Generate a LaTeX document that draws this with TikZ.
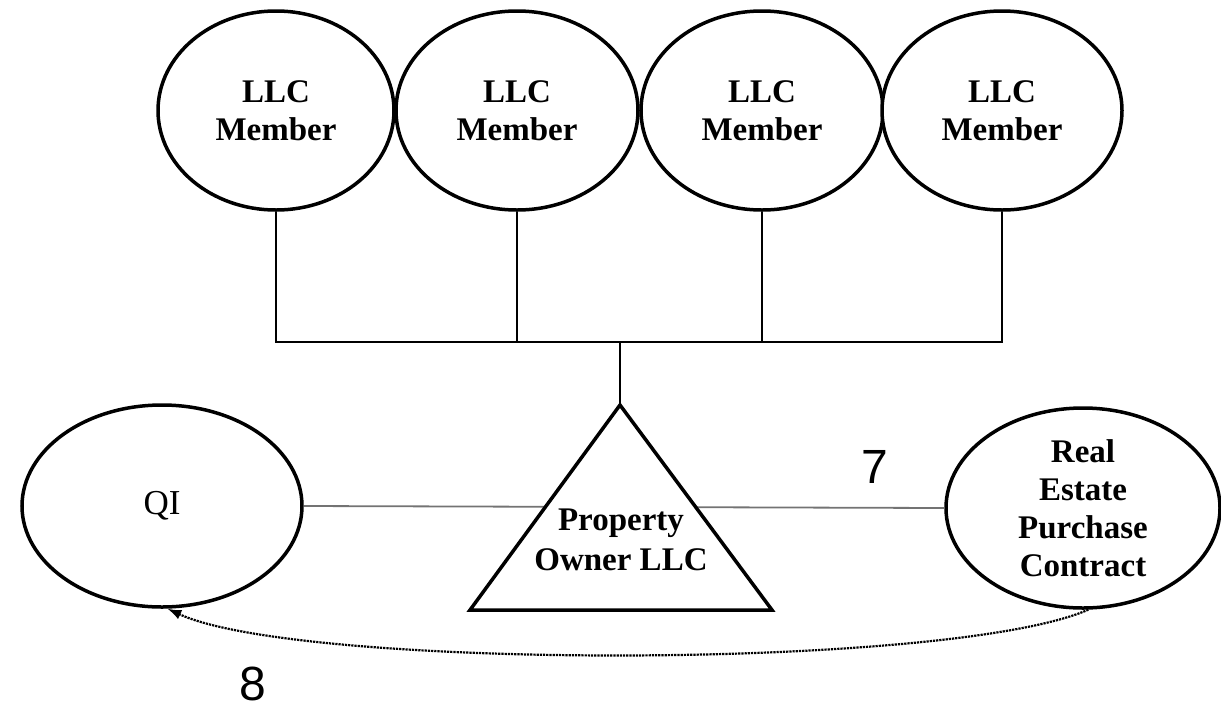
\documentclass[tikz,border=0pt]{standalone}
\usepackage{fontspec}
\setmainfont{Liberation Serif}
\newfontfamily\numfont{Liberation Sans}
\usetikzlibrary{shapes.geometric,arrows.meta}

\tikzset{
  oval/.style={ellipse, draw=black, line width=3.5pt, fill=white, inner sep=0pt,
    align=center, font=\bfseries\fontsize{33}{38}\selectfont},
  treeline/.style={draw=black, line width=2pt},
  link/.style={draw=black!55, line width=1.8pt},
  flow/.style={draw=black, line width=2.2pt, densely dotted,
    -{Latex[length=14pt,width=10pt]}},
  stepnum/.style={font=\numfont\fontsize{48}{48}\selectfont, inner sep=0pt},
  ownertext/.style={align=center, inner sep=0pt,
    font=\bfseries\fontsize{33}{40}\selectfont}
}

\begin{document}
\begin{tikzpicture}[x=1pt,y=-1pt]
\useasboundingbox (0,0) rectangle (1221,710);

% members of the company
\node[oval, minimum width=236pt, minimum height=199pt] (m1) at (276,110.5) {LLC\\Member};
\node[oval, minimum width=242pt, minimum height=199pt] (m2) at (517,110.5) {LLC\\Member};
\node[oval, minimum width=242pt, minimum height=199pt] (m3) at (762,110.5) {LLC\\Member};
\node[oval, minimum width=240pt, minimum height=199pt] (m4) at (1002,110.5) {LLC\\Member};

% ownership tree down to the company
\coordinate (hub) at (620,342);
\coordinate (apex) at (620,405);
\coordinate (baseL) at (470,610);
\coordinate (baseR) at (772,610);
\draw[treeline] (m1.south) -- (m1.south |- hub) -- (m4.south |- hub) -- (m4.south);
\draw[treeline] (m2.south) -- (m2.south |- hub);
\draw[treeline] (m3.south) -- (m3.south |- hub);
\draw[treeline] (hub) -- (apex);

% intermediary and contract
\node[oval, minimum width=280pt, minimum height=202pt,
  font=\fontsize{35}{38}\selectfont] (qi) at (162,506) {QI};
\node[oval, minimum width=274pt, minimum height=200pt] (re) at (1083,508)
  {Real\\Estate\\Purchase\\Contract};

\draw[link] (qi.east) -- (re.west);

% the company itself
\draw[line width=3.5pt, fill=white, line join=miter] (apex) -- (baseR) -- (baseL) -- cycle;
\node[ownertext] (owner) at (621,540) {Property\\Owner LLC};

% assignment of the contract
\draw[flow] (re.-87) .. controls (950,670) and (300,670) .. (qi.-87);

\node[stepnum] (n7) at (875,467) {7};
\node[stepnum] (n8) at (253,684) {8};
\end{tikzpicture}
\end{document}
